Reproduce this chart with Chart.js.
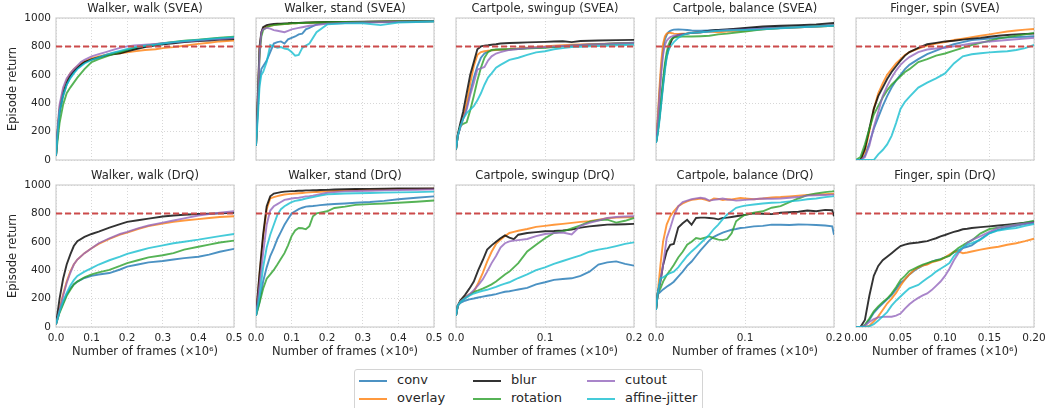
<!DOCTYPE html>
<html lang="en">
<head>
<meta charset="UTF-8">
<title>Learning curves per augmentation</title>
<script src="https://cdn.jsdelivr.net/npm/chart.js@4.4.1/dist/chart.umd.min.js"></script>
<style>
  body { margin: 0; background: #ffffff; font-family: 'DejaVu Sans', sans-serif; color: #262626; }
  #page { position: relative; width: 1049px; height: 408px; overflow: hidden; }
  .panel { position: absolute; }
  #legend {
    position: absolute; left: 354px; top: 369px; width: 347px; height: 46px;
    border: 1px solid #d4d4d4; border-radius: 3px; background: #fff;
  }
  .item { position: absolute; font-size: 13px; line-height: 14px; white-space: nowrap; }
  .swatch { position: absolute; height: 2px; width: 28px; }
</style>
</head>
<body>
<div id="page">
  <div id="legend"></div>
</div>

<script>
// series order follows the legend
const methods = ['conv', 'overlay', 'blur', 'rotation', 'cutout', 'affine-jitter'];
const colors = ['rgba(31,119,180,0.8)', 'rgba(255,127,14,0.8)', 'rgba(0,0,0,0.8)',
                'rgba(44,160,44,0.8)', 'rgba(148,103,189,0.8)', 'rgba(23,190,207,0.8)'];
const targetScore = 800;
const yTicks = [0, 200, 400, 600, 800, 1000];

// Walker, walk (SVEA)
const xWalkSVEA = [0, 0.005, 0.01, 0.02, 0.03, 0.04, 0.05, 0.06, 0.07, 0.08, 0.1, 0.12, 0.14, 0.16, 0.18, 0.2, 0.22, 0.25, 0.28, 0.3, 0.33, 0.36, 0.4, 0.43, 0.46, 0.5];
const yWalkSVEA = [
  [30, 200, 330, 450, 530, 580, 615, 645, 665, 685, 710, 725, 740, 752, 762, 772, 785, 800, 810, 818, 828, 835, 842, 850, 856, 862],
  [30, 230, 370, 490, 560, 610, 640, 660, 680, 695, 715, 730, 740, 748, 752, 758, 765, 775, 780, 788, 795, 805, 818, 826, 835, 842],
  [30, 210, 350, 470, 545, 595, 625, 650, 670, 690, 708, 722, 735, 745, 752, 765, 778, 795, 808, 815, 822, 830, 838, 842, 848, 852],
  [30, 150, 260, 390, 470, 510, 545, 580, 610, 640, 690, 710, 728, 745, 760, 775, 790, 805, 815, 822, 832, 840, 848, 855, 862, 868],
  [30, 240, 390, 510, 575, 610, 640, 665, 690, 705, 730, 745, 760, 775, 790, 800, 806, 812, 818, 822, 828, 835, 842, 848, 852, 858],
  [30, 200, 340, 455, 530, 575, 610, 640, 660, 680, 705, 722, 740, 755, 768, 782, 793, 805, 812, 820, 830, 838, 846, 852, 858, 865]
];

// Walker, stand (SVEA)
const xStandSVEA = [0, 0.005, 0.01, 0.015, 0.02, 0.03, 0.04, 0.05, 0.06, 0.07, 0.08, 0.09, 0.1, 0.11, 0.12, 0.13, 0.14, 0.15, 0.17, 0.2, 0.25, 0.3, 0.35, 0.4, 0.45, 0.5];
const yStandSVEA = [
  [100, 350, 560, 640, 660, 700, 760, 820, 830, 835, 820, 850, 860, 870, 885, 890, 920, 930, 955, 965, 970, 972, 973, 975, 976, 978],
  [100, 420, 780, 890, 925, 940, 945, 950, 955, 955, 958, 960, 962, 963, 965, 965, 966, 967, 968, 970, 972, 973, 974, 975, 976, 977],
  [100, 450, 800, 900, 935, 950, 955, 958, 960, 960, 962, 963, 965, 965, 966, 967, 968, 968, 970, 972, 973, 974, 975, 976, 977, 978],
  [100, 380, 740, 870, 915, 935, 945, 950, 952, 955, 958, 960, 962, 963, 964, 965, 966, 967, 968, 970, 972, 973, 974, 975, 976, 977],
  [100, 400, 750, 900, 920, 930, 925, 915, 910, 905, 900, 910, 920, 925, 930, 935, 940, 945, 950, 960, 965, 968, 970, 972, 974, 976],
  [100, 300, 520, 600, 620, 690, 810, 800, 790, 795, 785, 780, 760, 735, 740, 790, 805, 820, 900, 955, 962, 963, 950, 968, 972, 975]
];

// Cartpole, swingup (SVEA)
const xSwingSVEA = [0, 0.002, 0.005, 0.008, 0.012, 0.016, 0.02, 0.024, 0.028, 0.032, 0.036, 0.04, 0.045, 0.05, 0.06, 0.07, 0.08, 0.09, 0.1, 0.11, 0.12, 0.13, 0.14, 0.15, 0.16, 0.18, 0.2];
const ySwingSVEA = [
  [75, 170, 240, 290, 370, 480, 580, 660, 720, 750, 765, 772, 776, 778, 780, 784, 788, 790, 794, 798, 802, 806, 810, 813, 816, 820, 826],
  [75, 170, 240, 300, 403, 540, 660, 740, 760, 766, 770, 772, 775, 777, 780, 785, 790, 795, 800, 805, 808, 812, 814, 816, 818, 821, 824],
  [75, 180, 262, 340, 470, 600, 690, 780, 800, 805, 808, 812, 815, 820, 824, 826, 828, 830, 832, 834, 836, 830, 838, 840, 842, 844, 846],
  [75, 170, 239, 255, 265, 350, 450, 560, 650, 720, 760, 775, 778, 778, 780, 782, 785, 788, 790, 795, 800, 805, 808, 812, 815, 820, 824],
  [75, 170, 230, 290, 356, 460, 543, 637, 645, 655, 700, 730, 750, 760, 775, 782, 788, 792, 796, 800, 803, 806, 810, 813, 816, 820, 824],
  [75, 170, 240, 290, 330, 355, 379, 420, 470, 530, 580, 610, 650, 670, 705, 720, 740, 758, 766, 780, 788, 795, 798, 800, 803, 808, 812]
];

// Cartpole, balance (SVEA)
const xBalanceSVEA = [0, 0.002, 0.004, 0.006, 0.008, 0.01, 0.012, 0.014, 0.016, 0.018, 0.02, 0.025, 0.03, 0.035, 0.04, 0.05, 0.06, 0.07, 0.08, 0.1, 0.12, 0.14, 0.16, 0.18, 0.2];
const yBalanceSVEA = [
  [120, 280, 480, 650, 780, 850, 880, 900, 910, 915, 918, 920, 918, 915, 912, 910, 912, 915, 918, 925, 930, 935, 940, 945, 950],
  [120, 300, 520, 700, 820, 870, 890, 895, 895, 893, 890, 888, 890, 892, 895, 900, 905, 900, 905, 910, 920, 930, 935, 940, 945],
  [120, 200, 300, 420, 540, 650, 730, 780, 820, 850, 865, 880, 885, 890, 895, 900, 910, 915, 920, 930, 940, 945, 950, 955, 965],
  [120, 200, 320, 450, 570, 680, 760, 810, 840, 855, 862, 868, 870, 870, 870, 872, 875, 885, 890, 905, 920, 930, 935, 940, 945],
  [120, 260, 450, 620, 740, 810, 840, 855, 865, 870, 875, 880, 885, 890, 895, 900, 905, 910, 915, 920, 925, 930, 935, 940, 948],
  [120, 180, 280, 400, 520, 630, 720, 770, 800, 815, 830, 860, 880, 890, 895, 900, 905, 910, 912, 915, 920, 928, 935, 940, 945]
];

// Finger, spin (SVEA)
const xSpinSVEA = [0, 0.005, 0.01, 0.015, 0.02, 0.025, 0.03, 0.035, 0.04, 0.045, 0.05, 0.055, 0.06, 0.07, 0.08, 0.09, 0.1, 0.11, 0.12, 0.13, 0.14, 0.15, 0.16, 0.17, 0.18, 0.19, 0.2];
const ySpinSVEA = [
  [0, 0, 30, 120, 220, 300, 380, 450, 510, 560, 600, 640, 670, 710, 745, 770, 795, 815, 830, 845, 850, 855, 860, 862, 865, 868, 871],
  [0, 0, 60, 200, 360, 470, 540, 600, 640, 680, 710, 740, 760, 785, 805, 820, 830, 845, 855, 865, 875, 885, 895, 905, 912, 918, 923],
  [0, 0, 80, 220, 360, 450, 510, 570, 620, 660, 700, 735, 760, 790, 815, 825, 835, 840, 848, 855, 860, 868, 875, 880, 885, 888, 890],
  [0, 20, 110, 220, 320, 380, 440, 490, 530, 560, 590, 620, 640, 690, 710, 735, 750, 770, 790, 810, 825, 840, 855, 865, 875, 885, 895],
  [0, 0, 20, 100, 230, 340, 450, 520, 580, 630, 670, 700, 725, 760, 778, 785, 790, 800, 810, 820, 828, 835, 840, 845, 850, 855, 860],
  [0, 0, 0, 0, 0, 40, 70, 110, 170, 260, 360, 410, 445, 510, 545, 575, 610, 680, 730, 745, 752, 758, 762, 766, 775, 788, 810]
];

// Walker, walk (DrQ)
const xWalkDrQ = [0, 0.01, 0.02, 0.03, 0.04, 0.05, 0.06, 0.08, 0.1, 0.12, 0.15, 0.18, 0.2, 0.23, 0.26, 0.3, 0.33, 0.36, 0.4, 0.43, 0.46, 0.5];
const yWalkDrQ = [
  [20, 110, 170, 230, 270, 300, 320, 345, 360, 370, 380, 405, 425, 440, 455, 465, 475, 485, 495, 510, 530, 550],
  [20, 130, 230, 320, 390, 440, 475, 520, 555, 585, 620, 650, 665, 690, 710, 728, 740, 750, 760, 768, 775, 780],
  [20, 200, 340, 440, 510, 570, 605, 635, 655, 672, 700, 725, 740, 752, 763, 778, 785, 790, 796, 798, 800, 804],
  [20, 100, 160, 220, 260, 300, 320, 350, 370, 385, 402, 430, 450, 470, 490, 505, 520, 545, 565, 580, 595, 608],
  [20, 120, 220, 310, 380, 440, 475, 520, 555, 590, 625, 655, 670, 695, 715, 735, 750, 765, 785, 795, 805, 815],
  [20, 110, 180, 240, 290, 330, 360, 390, 415, 440, 470, 495, 515, 535, 555, 575, 590, 600, 615, 628, 640, 655]
];

// Walker, stand (DrQ)
const xStandDrQ = [0, 0.01, 0.02, 0.03, 0.04, 0.05, 0.06, 0.07, 0.08, 0.09, 0.1, 0.11, 0.12, 0.13, 0.14, 0.15, 0.16, 0.17, 0.18, 0.2, 0.22, 0.25, 0.28, 0.32, 0.36, 0.4, 0.45, 0.5];
const yStandDrQ = [
  [80, 180, 320, 420, 500, 555, 620, 670, 720, 760, 800, 815, 830, 840, 848, 850, 852, 855, 858, 863, 866, 870, 875, 880, 888, 900, 910, 920],
  [80, 370, 630, 830, 905, 915, 922, 928, 933, 936, 938, 940, 942, 944, 946, 948, 950, 951, 952, 955, 958, 962, 965, 967, 969, 971, 972, 974],
  [80, 380, 650, 850, 920, 940, 945, 950, 953, 955, 957, 958, 960, 960, 962, 962, 963, 963, 965, 966, 968, 970, 972, 973, 974, 975, 975, 976],
  [80, 170, 270, 340, 370, 402, 440, 480, 520, 575, 640, 680, 697, 695, 688, 710, 780, 800, 805, 815, 838, 848, 860, 865, 870, 875, 882, 891],
  [80, 300, 520, 720, 820, 850, 865, 880, 895, 900, 905, 908, 910, 915, 920, 922, 925, 930, 935, 945, 950, 955, 958, 960, 962, 965, 967, 969],
  [80, 220, 420, 560, 650, 720, 790, 830, 850, 865, 880, 888, 893, 898, 905, 910, 915, 920, 925, 934, 937, 940, 942, 944, 946, 948, 950, 953]
];

// Cartpole, swingup (DrQ)
const xSwingDrQ = [0, 0.002, 0.005, 0.01, 0.015, 0.02, 0.025, 0.03, 0.035, 0.04, 0.045, 0.05, 0.055, 0.06, 0.065, 0.07, 0.08, 0.09, 0.1, 0.11, 0.12, 0.13, 0.14, 0.15, 0.16, 0.17, 0.18, 0.19, 0.2];
const ySwingDrQ = [
  [80, 150, 170, 185, 195, 201, 208, 214, 220, 225, 232, 240, 248, 252, 258, 264, 275, 300, 315, 332, 338, 343, 360, 390, 440, 455, 462, 445, 432],
  [80, 150, 185, 210, 230, 248, 310, 380, 461, 530, 585, 615, 640, 662, 670, 678, 690, 705, 712, 720, 726, 733, 740, 745, 755, 766, 770, 772, 773],
  [80, 150, 189, 225, 270, 320, 400, 470, 545, 575, 600, 625, 645, 630, 618, 650, 662, 668, 674, 676, 680, 686, 700, 709, 715, 721, 722, 724, 726],
  [80, 150, 180, 205, 225, 248, 258, 270, 285, 300, 320, 345, 370, 390, 420, 450, 532, 580, 625, 662, 674, 695, 715, 742, 752, 756, 735, 748, 768],
  [80, 150, 180, 205, 230, 260, 295, 335, 390, 450, 500, 560, 590, 603, 608, 612, 620, 640, 655, 662, 665, 652, 712, 733, 750, 768, 775, 778, 780],
  [80, 150, 175, 200, 220, 236, 245, 255, 262, 272, 282, 295, 305, 315, 330, 345, 370, 400, 420, 445, 465, 485, 505, 530, 545, 555, 570, 585, 596]
];

// Cartpole, balance (DrQ)
const xBalanceDrQ = [0, 0.002, 0.005, 0.008, 0.012, 0.016, 0.02, 0.025, 0.03, 0.035, 0.04, 0.045, 0.05, 0.055, 0.06, 0.065, 0.07, 0.075, 0.08, 0.085, 0.09, 0.095, 0.1, 0.11, 0.12, 0.13, 0.14, 0.15, 0.16, 0.17, 0.18, 0.19, 0.198, 0.2];
const yBalanceDrQ = [
  [120, 230, 248, 265, 284, 300, 319, 355, 390, 430, 461, 500, 540, 575, 610, 635, 650, 665, 675, 685, 690, 697, 700, 709, 712, 721, 720, 718, 722, 721, 718, 715, 709, 650],
  [120, 240, 437, 603, 721, 780, 815, 850, 870, 885, 895, 900, 905, 898, 887, 905, 902, 895, 900, 898, 903, 908, 905, 900, 905, 912, 915, 920, 925, 930, 933, 936, 938, 938],
  [120, 240, 320, 437, 532, 579, 585, 700, 730, 755, 720, 768, 770, 770, 768, 765, 758, 768, 770, 775, 780, 785, 790, 800, 798, 795, 805, 808, 812, 820, 815, 825, 822, 780],
  [120, 240, 272, 320, 366, 400, 437, 490, 530, 579, 600, 626, 620, 630, 638, 625, 615, 612, 620, 660, 745, 770, 790, 805, 815, 840, 851, 880, 905, 928, 940, 950, 955, 957],
  [120, 240, 330, 437, 626, 697, 780, 850, 880, 890, 900, 906, 910, 905, 890, 895, 900, 905, 898, 895, 890, 893, 895, 900, 905, 903, 905, 910, 915, 925, 928, 930, 932, 932],
  [120, 240, 343, 350, 366, 380, 390, 420, 461, 500, 532, 560, 590, 620, 650, 690, 721, 760, 792, 815, 839, 848, 855, 863, 870, 875, 878, 885, 890, 900, 905, 915, 920, 922]
];

// Finger, spin (DrQ)
const xSpinDrQ = [0, 0.005, 0.01, 0.015, 0.02, 0.025, 0.03, 0.035, 0.04, 0.045, 0.05, 0.055, 0.06, 0.065, 0.07, 0.075, 0.08, 0.085, 0.09, 0.095, 0.1, 0.105, 0.11, 0.115, 0.12, 0.125, 0.13, 0.14, 0.15, 0.16, 0.17, 0.18, 0.19, 0.2];
const ySpinDrQ = [
  [0, 0, 10, 50, 100, 135, 165, 195, 225, 265, 310, 335, 370, 395, 415, 432, 445, 460, 470, 478, 490, 505, 525, 540, 555, 565, 575, 620, 662, 685, 700, 712, 725, 733],
  [0, 0, 0, 10, 40, 75, 120, 165, 200, 240, 290, 335, 370, 400, 420, 432, 440, 455, 465, 473, 490, 510, 530, 532, 520, 525, 532, 545, 556, 565, 579, 590, 605, 622],
  [0, 0, 50, 220, 360, 430, 470, 495, 520, 545, 570, 580, 588, 592, 595, 600, 605, 615, 625, 638, 648, 660, 670, 678, 688, 692, 697, 703, 709, 715, 721, 728, 735, 740],
  [0, 0, 15, 60, 110, 145, 175, 200, 235, 280, 330, 360, 395, 410, 425, 440, 450, 460, 468, 476, 490, 500, 530, 556, 575, 595, 610, 660, 690, 700, 712, 722, 735, 749],
  [0, 0, 10, 35, 55, 68, 71, 72, 72, 80, 95, 130, 160, 185, 205, 222, 236, 260, 290, 320, 360, 410, 470, 520, 556, 590, 612, 640, 670, 700, 710, 720, 730, 737],
  [0, 0, 0, 5, 20, 45, 75, 105, 150, 185, 215, 245, 272, 285, 296, 320, 343, 365, 390, 410, 430, 450, 500, 532, 560, 580, 591, 615, 660, 680, 690, 697, 712, 726]
];

const panels = [
  { title: 'Walker, walk (SVEA)', x: xWalkSVEA, y: yWalkSVEA, xmax: 0.5, step: 0.1, dec: 1 },
  { title: 'Walker, stand (SVEA)', x: xStandSVEA, y: yStandSVEA, xmax: 0.5, step: 0.1, dec: 1 },
  { title: 'Cartpole, swingup (SVEA)', x: xSwingSVEA, y: ySwingSVEA, xmax: 0.2, step: 0.1, dec: 1 },
  { title: 'Cartpole, balance (SVEA)', x: xBalanceSVEA, y: yBalanceSVEA, xmax: 0.2, step: 0.1, dec: 1 },
  { title: 'Finger, spin (SVEA)', x: xSpinSVEA, y: ySpinSVEA, xmax: 0.2, step: 0.05, dec: 2 },
  { title: 'Walker, walk (DrQ)', x: xWalkDrQ, y: yWalkDrQ, xmax: 0.5, step: 0.1, dec: 1 },
  { title: 'Walker, stand (DrQ)', x: xStandDrQ, y: yStandDrQ, xmax: 0.5, step: 0.1, dec: 1 },
  { title: 'Cartpole, swingup (DrQ)', x: xSwingDrQ, y: ySwingDrQ, xmax: 0.2, step: 0.1, dec: 1 },
  { title: 'Cartpole, balance (DrQ)', x: xBalanceDrQ, y: yBalanceDrQ, xmax: 0.2, step: 0.1, dec: 1 },
  { title: 'Finger, spin (DrQ)', x: xSpinDrQ, y: ySpinDrQ, xmax: 0.2, step: 0.05, dec: 2 }
];

const FONT = "'DejaVu Sans', sans-serif";
const TEXT = '#262626';

// light frame round every plot area
const framePlugin = {
  id: 'frame',
  beforeDatasetsDraw(chart) {
    const { ctx, chartArea: a } = chart;
    ctx.save();
    ctx.strokeStyle = '#cfcfcf';
    ctx.lineWidth = 1.2;
    ctx.strokeRect(a.left, a.top, a.right - a.left, a.bottom - a.top);
    ctx.restore();
  }
};

const page = document.getElementById('page');

panels.forEach((p, i) => {
  const row = Math.floor(i / 5), col = i % 5;
  const plotLeft = 56 + col * 200, plotTop = row === 0 ? 18 : 185;
  const padL = 56, padT = 18, padR = 14, padB = row === 0 ? 4 : 36;

  const div = document.createElement('div');
  div.className = 'panel';
  div.style.left = (plotLeft - padL) + 'px';
  div.style.top = (plotTop - padT) + 'px';
  const canvas = document.createElement('canvas');
  canvas.width = padL + 178 + padR;
  canvas.height = padT + 142 + padB;
  div.appendChild(canvas);
  page.appendChild(div);

  const datasets = [{
    data: [{ x: 0, y: targetScore }, { x: p.xmax, y: targetScore }],
    borderColor: '#cc4b4b', borderWidth: 2, borderDash: [6, 3],
    pointRadius: 0, order: 0
  }];
  p.y.forEach((ys, k) => {
    datasets.push({
      label: methods[k],
      data: p.x.map((xv, j) => ({ x: xv, y: ys[j] })),
      borderColor: colors[k], borderWidth: 1.9,
      pointRadius: 0, tension: 0, fill: false,
      order: methods.length - k
    });
  });

  new Chart(canvas, {
    type: 'line',
    data: { datasets },
    options: {
      responsive: false,
      animation: false,
      events: [],
      layout: { padding: { left: 0, right: padR, top: 0, bottom: 0 } },
      plugins: {
        legend: { display: false },
        tooltip: { enabled: false },
        title: {
          display: true, text: p.title, color: TEXT, fullSize: false,
          font: { family: FONT, size: 11.5, weight: 'normal', lineHeight: '14px' },
          padding: { top: 2, bottom: 2 }
        }
      },
      scales: {
        x: {
          type: 'linear', min: 0, max: p.xmax,
          afterFit: s => { s.height = padB; s.paddingLeft = 0; s.paddingRight = 0; },
          ticks: {
            display: row === 1, stepSize: p.step, autoSkip: false, maxRotation: 0,
            padding: 5, color: TEXT, font: { family: FONT, size: 10.5 },
            callback: v => Number(v).toFixed(p.dec)
          },
          grid: { color: 'rgba(0,0,0,0.2)', lineWidth: 0.8, drawTicks: false },
          border: { display: false, dash: [1, 2] },
          title: {
            display: row === 1, text: 'Number of frames (×10⁶)', color: TEXT,
            font: { family: FONT, size: 11.5 }, padding: { top: 0, bottom: 4 }
          }
        },
        y: {
          min: 0, max: 1000,
          afterFit: s => { s.width = padL; s.paddingTop = 0; s.paddingBottom = 0; },
          afterBuildTicks: s => { s.ticks = yTicks.map(v => ({ value: v })); },
          ticks: {
            display: col === 0, padding: 5, color: TEXT,
            font: { family: FONT, size: 10.5 },
            callback: v => String(v)
          },
          grid: { color: 'rgba(0,0,0,0.2)', lineWidth: 0.8, drawTicks: false },
          border: { display: false, dash: [1, 2] },
          title: {
            display: col === 0, text: 'Episode return', color: TEXT,
            font: { family: FONT, size: 11.5 }, padding: { top: 6, bottom: 0 }
          }
        }
      }
    },
    plugins: [framePlugin]
  });
});

// shared legend, three columns filled top to bottom
const legend = document.getElementById('legend');
methods.forEach((m, k) => {
  const c = Math.floor(k / 2), r = k % 2;
  const sw = document.createElement('div');
  sw.className = 'swatch';
  sw.style.background = colors[k];
  sw.style.left = (4 + c * 114) + 'px';
  sw.style.top = (10 + r * 18) + 'px';
  const tx = document.createElement('div');
  tx.className = 'item';
  tx.textContent = m;
  tx.style.left = (42 + c * 114) + 'px';
  tx.style.top = (3 + r * 18) + 'px';
  legend.appendChild(sw);
  legend.appendChild(tx);
});
</script>
</body>
</html>
